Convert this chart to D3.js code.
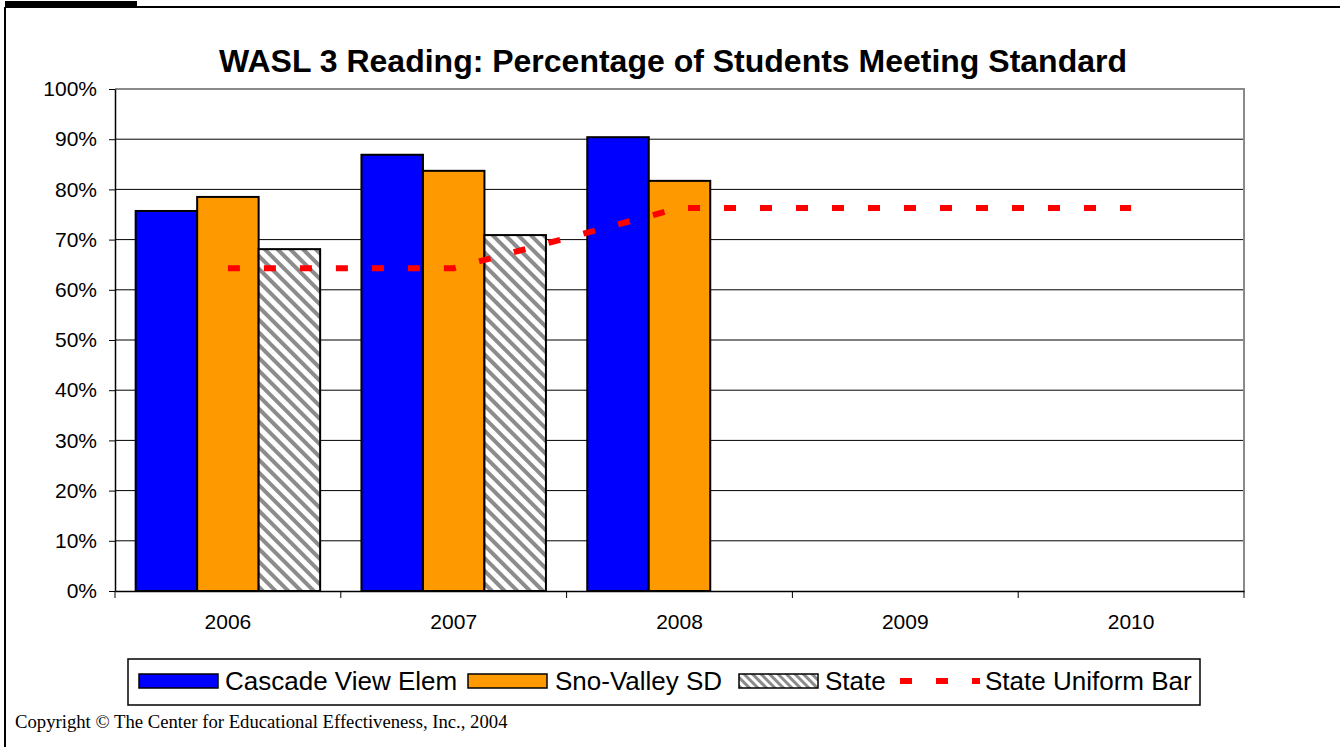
<!DOCTYPE html>
<html>
<head>
<meta charset="utf-8">
<script src="https://cdn.jsdelivr.net/npm/d3@7"></script>
<style>
  body { margin: 0; background: #fff; }
  svg { display: block; font-family: Arial, "Liberation Sans", sans-serif; }
</style>
</head>
<body>
<svg id="chart"></svg>
<script>
// data
const years = ["2006", "2007", "2008", "2009", "2010"];
const seriesNames = ["Cascade View Elem", "Sno-Valley SD", "State"];
const cascadeView = [75.7, 86.9, 90.4, null, null];
const snoValley = [78.5, 83.7, 81.7, null, null];
const stateValues = [68.1, 70.9, null, null, null];
const uniformBar = [64.3, 64.3, 76.3, 76.3, 76.3];
const yTicks = [0, 10, 20, 30, 40, 50, 60, 70, 80, 90, 100];

const width = 1340, height = 747;
const margin = { top: 89, right: 96, bottom: 156, left: 115 };

const svg = d3.select("#chart").attr("width", width).attr("height", height);

// hatch pattern for State
const defs = svg.append("defs");
const hatch = defs.append("pattern")
  .attr("id", "hatch")
  .attr("patternUnits", "userSpaceOnUse")
  .attr("width", 9).attr("height", 9)
  .attr("patternTransform", "rotate(-45)");
hatch.append("rect").attr("width", 9).attr("height", 9).attr("fill", "#fff");
hatch.append("rect").attr("x", 0).attr("width", 4).attr("height", 9).attr("fill", "#8c8c8c");

const hatchSmall = defs.append("pattern")
  .attr("id", "hatchSmall")
  .attr("patternUnits", "userSpaceOnUse")
  .attr("width", 6).attr("height", 6)
  .attr("patternTransform", "rotate(-45)");
hatchSmall.append("rect").attr("width", 6).attr("height", 6).attr("fill", "#fff");
hatchSmall.append("rect").attr("width", 3).attr("height", 6).attr("fill", "#8c8c8c");

// outer frame
svg.append("rect").attr("x", 5).attr("y", 1).attr("width", 132).attr("height", 6).attr("fill", "#000");
svg.append("path").attr("d", "M5,7H1340M5,7V747").attr("stroke", "#000").attr("stroke-width", 2).attr("fill", "none");

const x = d3.scaleBand()
  .domain(years)
  .range([margin.left, width - margin.right])
  .paddingInner(0.183)
  .paddingOuter(0.0915);
const step = x.step();
const xSub = d3.scaleBand().domain(seriesNames).range([0, x.bandwidth()]);
const y = d3.scaleLinear().domain([0, 100]).range([height - margin.bottom, margin.top]);

const x0 = margin.left, x1 = width - margin.right;

// gridlines
svg.append("g")
  .selectAll("line")
  .data(yTicks.filter(d => d > 0 && d < 100))
  .join("line")
  .attr("x1", x0).attr("x2", x1)
  .attr("y1", d => y(d)).attr("y2", d => y(d))
  .attr("stroke", "#000").attr("stroke-width", 1);

// plot border (top, right)
svg.append("path")
  .attr("d", `M${x0},${y(100)}H${x1}V${y(0)}`)
  .attr("stroke", "#8a8a8a").attr("stroke-width", 2).attr("fill", "none");

// title
svg.append("text")
  .attr("x", 673).attr("y", 72)
  .attr("text-anchor", "middle")
  .attr("font-size", 32).attr("font-weight", "bold")
  .text("WASL 3 Reading: Percentage of Students Meeting Standard");

// bars
const seriesData = [
  { name: seriesNames[0], values: cascadeView, fill: "#0000ff" },
  { name: seriesNames[1], values: snoValley, fill: "#ff9900" },
  { name: seriesNames[2], values: stateValues, fill: "url(#hatch)" }
];
const barG = svg.append("g");
seriesData.forEach(s => {
  barG.append("g")
    .selectAll("rect")
    .data(years.map((yr, i) => ({ yr, v: s.values[i] })).filter(d => d.v != null))
    .join("rect")
    .attr("x", d => x(d.yr) + xSub(s.name))
    .attr("width", xSub.bandwidth())
    .attr("y", d => y(d.v))
    .attr("height", d => y(0) - y(d.v))
    .attr("fill", s.fill)
    .attr("stroke", "#000")
    .attr("stroke-width", 2);
});

// uniform bar line
const line = d3.line()
  .x((d, i) => x(years[i]) + x.bandwidth() / 2)
  .y(d => y(d));
svg.append("path")
  .datum(uniformBar)
  .attr("d", line)
  .attr("fill", "none")
  .attr("stroke", "#ff0000")
  .attr("stroke-width", 6)
  .attr("stroke-dasharray", "12,24");

// y axis
const yAxis = svg.append("g")
  .attr("transform", `translate(${x0},0)`)
  .call(d3.axisLeft(y).tickValues(yTicks).tickFormat(d => d + "%").tickSize(6).tickSizeOuter(0));
yAxis.select(".domain").attr("stroke", "#000").attr("stroke-width", 1.5);
yAxis.selectAll(".tick line").attr("stroke", "#000");
yAxis.selectAll(".tick text").attr("font-size", 21).attr("fill", "#000").attr("x", -18).attr("font-family", "Arial, 'Liberation Sans', sans-serif");

// x axis
const xAxis = svg.append("g")
  .attr("transform", `translate(0,${y(0)})`)
  .call(d3.axisBottom(x).tickSize(0).tickSizeOuter(0));
xAxis.select(".domain").attr("stroke", "#000").attr("stroke-width", 1.5);
xAxis.selectAll(".tick text").attr("font-size", 21).attr("fill", "#000").attr("dy", 0).attr("y", 38).attr("font-family", "Arial, 'Liberation Sans', sans-serif");
// category boundary ticks
xAxis.append("g")
  .selectAll("line")
  .data(d3.range(years.length + 1))
  .join("line")
  .attr("x1", i => x0 + i * step).attr("x2", i => x0 + i * step)
  .attr("y1", 0).attr("y2", 7)
  .attr("stroke", "#000");

// legend
const legend = svg.append("g");
legend.append("rect")
  .attr("x", 128).attr("y", 659).attr("width", 1072).attr("height", 46)
  .attr("fill", "#fff").attr("stroke", "#000").attr("stroke-width", 1.5);
const legendItems = [
  { name: seriesNames[0], fill: "#0000ff", x: 139, tx: 225 },
  { name: seriesNames[1], fill: "#ff9900", x: 468, tx: 555 },
  { name: seriesNames[2], fill: "url(#hatchSmall)", x: 739, tx: 825 }
];
legendItems.forEach(d => {
  legend.append("rect")
    .attr("x", d.x).attr("y", 674).attr("width", 79).attr("height", 14)
    .attr("fill", d.fill).attr("stroke", "#000").attr("stroke-width", 1.5);
  legend.append("text")
    .attr("x", d.tx).attr("y", 690)
    .attr("font-size", 26).text(d.name);
});
legend.append("line")
  .attr("x1", 900).attr("x2", 980).attr("y1", 681).attr("y2", 681)
  .attr("stroke", "#ff0000").attr("stroke-width", 6)
  .attr("stroke-dasharray", "12,24");
legend.append("text")
  .attr("x", 985).attr("y", 690)
  .attr("font-size", 26).text("State Uniform Bar");

// copyright
svg.append("text")
  .attr("x", 15).attr("y", 728)
  .attr("font-family", "'Liberation Serif', 'Times New Roman', serif")
  .attr("font-size", 18.7)
  .text("Copyright \u00a9 The Center for Educational Effectiveness, Inc., 2004");
</script>
</body>
</html>
